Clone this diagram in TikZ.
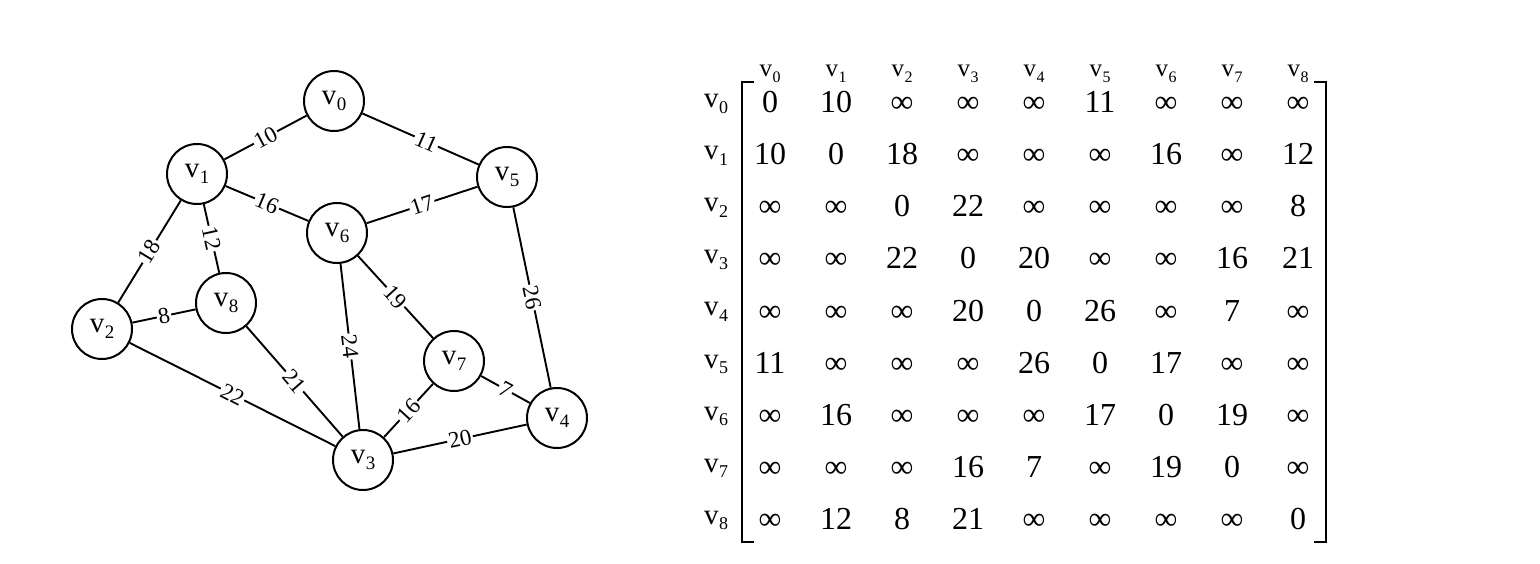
\documentclass[tikz,border=0pt]{standalone}
\usepackage{fontspec}
\setmainfont{Liberation Serif}
\newcommand{\vlab}[3]{{\fontsize{#1}{#1}\selectfont v}\kern0.5pt\raisebox{-0.32\dimexpr#2pt\relax}{\fontsize{#2}{#2}\selectfont #3}}
\begin{document}
\begin{tikzpicture}[x=1pt,y=-1pt,
  vtx/.style={circle,draw,line width=2pt,minimum size=60pt,inner sep=0pt},
  wl/.style={fill=white,inner sep=1.5pt,sloped,font=\fontsize{23}{23}\selectfont,pos=0.5},
  edge/.style={line width=1.9pt},
  ent/.style={font=\fontsize{32}{32}\selectfont,inner sep=0pt,anchor=base},
  rlab/.style={inner sep=0pt,anchor=base},
  brk/.style={line width=2pt}
]
\useasboundingbox (0,0) rectangle (1540,564);
% graph nodes
\node[vtx] (v0) at (334,101) {\vlab{29}{19}{0}};
\node[vtx] (v1) at (197,174) {\vlab{29}{19}{1}};
\node[vtx] (v5) at (507,177) {\vlab{29}{19}{5}};
\node[vtx] (v6) at (337,233) {\vlab{29}{19}{6}};
\node[vtx] (v8) at (226,303) {\vlab{29}{19}{8}};
\node[vtx] (v2) at (102,329) {\vlab{29}{19}{2}};
\node[vtx] (v7) at (454,361) {\vlab{29}{19}{7}};
\node[vtx] (v4) at (557,418) {\vlab{29}{19}{4}};
\node[vtx] (v3) at (363,460) {\vlab{29}{19}{3}};
% edges
\draw[edge] (v1) -- node[wl]{10} (v0);
\draw[edge] (v0) -- node[wl,pos=0.55]{11} (v5);
\draw[edge] (v1) -- node[wl]{16} (v6);
\draw[edge] (v6) -- node[wl]{17} (v5);
\draw[edge] (v1) -- node[wl]{18} (v2);
\draw[edge] (v1) -- node[wl]{12} (v8);
\draw[edge] (v2) -- node[wl]{8} (v8);
\draw[edge] (v2) -- node[wl]{22} (v3);
\draw[edge] (v8) -- node[wl]{21} (v3);
\draw[edge] (v6) -- node[wl]{24} (v3);
\draw[edge] (v6) -- node[wl]{19} (v7);
\draw[edge] (v3) -- node[wl]{16} (v7);
\draw[edge] (v7) -- node[wl]{7} (v4);
\draw[edge] (v3) -- node[wl]{20} (v4);
\draw[edge] (v5) -- node[wl]{26} (v4);
% matrix headers and row labels
\foreach \k in {0,...,8} {
  \node[rlab] (c\k) at (770+66*\k, 77) {\vlab{25}{16}{\k}};
  \node[rlab] (r\k) at (716, 108+52*\k) {\vlab{29}{18}{\k}};
}
% matrix entries
\foreach \rowvals [count=\i from 0] in {
  {0,10,∞,∞,∞,11,∞,∞,∞},
  {10,0,18,∞,∞,∞,16,∞,12},
  {∞,∞,0,22,∞,∞,∞,∞,8},
  {∞,∞,22,0,20,∞,∞,16,21},
  {∞,∞,∞,20,0,26,∞,7,∞},
  {11,∞,∞,∞,26,0,17,∞,∞},
  {∞,16,∞,∞,∞,17,0,19,∞},
  {∞,∞,∞,16,7,∞,19,0,∞},
  {∞,12,8,21,∞,∞,∞,∞,0}} {
  \foreach \val [count=\j from 0] in \rowvals {
    \node[ent] (e\i\j) at (770+66*\j, 113+52*\i) {\val};
  }
}
% brackets
\coordinate (lt) at (742,82);
\coordinate (lb) at (742,542);
\coordinate (rt) at (1326,82);
\coordinate (rb) at (1326,542);
\draw[brk] ([xshift=12pt]lt) -- (lt) -- (lb) -- ([xshift=12pt]lb);
\draw[brk] ([xshift=-12pt]rt) -- (rt) -- (rb) -- ([xshift=-12pt]rb);
\end{tikzpicture}
\end{document}
